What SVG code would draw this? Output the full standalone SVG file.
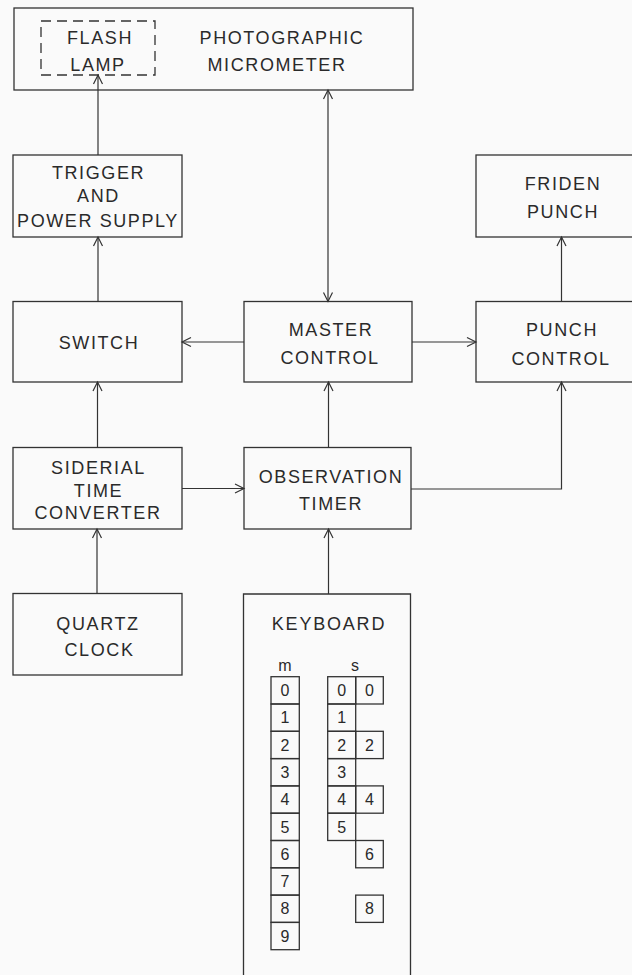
<svg xmlns="http://www.w3.org/2000/svg" width="632" height="975" viewBox="0 0 632 975">
<style>
.bg{fill:#fafafa}
.box{fill:none;stroke:#333;stroke-width:1.3}
.dash{fill:none;stroke:#333;stroke-width:1.3;stroke-dasharray:10 6}
.ln{fill:none;stroke:#333;stroke-width:1.2}
.t{font-family:"Liberation Sans",Arial,sans-serif;font-size:18px;fill:#2a2a2a;text-anchor:middle;letter-spacing:1.6px}
.k{font-family:"Liberation Sans",Arial,sans-serif;font-size:16px;fill:#2a2a2a;text-anchor:middle}
.d{font-family:"Liberation Sans",Arial,sans-serif;font-size:16px;fill:#2a2a2a;text-anchor:middle}
</style>
<defs>
<marker id="ah" markerWidth="12" markerHeight="12" viewBox="-10 -6 12 12" refX="0" refY="0" orient="auto-start-reverse" markerUnits="userSpaceOnUse">
<path d="M-9,-4.5 L0,0 L-9,4.5" fill="none" stroke="#333" stroke-width="1.2"/>
</marker>
</defs>
<rect class="bg" x="0" y="0" width="632" height="975"/>

<g id="micrometer">
<rect class="box" x="14" y="8" width="399" height="82"/>
<text class="t" x="282" y="43.5">PHOTOGRAPHIC</text>
<text class="t" x="277" y="71">MICROMETER</text>
</g>
<g id="flash-lamp">
<rect class="dash" x="41" y="21" width="114" height="54"/>
<text class="t" x="100" y="43.5">FLASH</text>
<text class="t" x="98" y="71">LAMP</text>
</g>
<g id="trigger">
<rect class="box" x="13" y="155" width="169" height="82"/>
<text class="t" x="98.5" y="179">TRIGGER</text>
<text class="t" x="98.5" y="201.5">AND</text>
<text class="t" x="98" y="226.5">POWER SUPPLY</text>
</g>
<g id="friden-punch">
<rect class="box" x="476" y="155" width="170" height="82"/>
<text class="t" x="563" y="190">FRIDEN</text>
<text class="t" x="563" y="217.5">PUNCH</text>
</g>
<g id="switch">
<rect class="box" x="13" y="301.5" width="169" height="80.5"/>
<text class="t" x="99" y="348.5">SWITCH</text>
</g>
<g id="master-control">
<rect class="box" x="244" y="301.5" width="168" height="80.5"/>
<text class="t" x="331" y="335.5">MASTER</text>
<text class="t" x="330" y="364">CONTROL</text>
</g>
<g id="punch-control">
<rect class="box" x="476" y="301.5" width="170" height="80.5"/>
<text class="t" x="562" y="336">PUNCH</text>
<text class="t" x="561" y="365">CONTROL</text>
</g>
<g id="siderial">
<rect class="box" x="13" y="447.5" width="169" height="81.5"/>
<text class="t" x="98.5" y="474">SIDERIAL</text>
<text class="t" x="98.5" y="496.5">TIME</text>
<text class="t" x="98" y="518.5">CONVERTER</text>
</g>
<g id="observation-timer">
<rect class="box" x="244" y="447.5" width="167" height="81.5"/>
<text class="t" x="331" y="482.5">OBSERVATION</text>
<text class="t" x="331" y="510">TIMER</text>
</g>
<g id="quartz-clock">
<rect class="box" x="13" y="593.5" width="169" height="81.5"/>
<text class="t" x="98" y="629.5">QUARTZ</text>
<text class="t" x="99.5" y="656">CLOCK</text>
</g>
<g id="keyboard">
<path class="box" d="M243.5,985 V594 H410.5 V985"/>
<text class="t" x="329" y="630" style="letter-spacing:1.8px">KEYBOARD</text>
<text class="k" x="285" y="671">m</text>
<text class="k" x="355" y="671">s</text>
<g id="m-keys">
<rect class="box" x="271" y="676.7" width="28.3" height="27.3"/>
<rect class="box" x="271" y="704" width="28.3" height="27.3"/>
<rect class="box" x="271" y="731.3" width="28.3" height="27.3"/>
<rect class="box" x="271" y="758.6" width="28.3" height="27.3"/>
<rect class="box" x="271" y="785.9" width="28.3" height="27.3"/>
<rect class="box" x="271" y="813.2" width="28.3" height="27.3"/>
<rect class="box" x="271" y="840.5" width="28.3" height="27.3"/>
<rect class="box" x="271" y="867.8" width="28.3" height="27.3"/>
<rect class="box" x="271" y="895.1" width="28.3" height="27.3"/>
<rect class="box" x="271" y="922.4" width="28.3" height="27.3"/>
<text class="d" x="285" y="696">0</text>
<text class="d" x="285" y="723.3">1</text>
<text class="d" x="285" y="750.6">2</text>
<text class="d" x="285" y="777.9">3</text>
<text class="d" x="285" y="805.2">4</text>
<text class="d" x="285" y="832.5">5</text>
<text class="d" x="285" y="859.8">6</text>
<text class="d" x="285" y="887.1">7</text>
<text class="d" x="285" y="914.4">8</text>
<text class="d" x="285" y="941.7">9</text>
</g>
<g id="s-tens">
<rect class="box" x="327.7" y="676.7" width="28" height="27.3"/>
<rect class="box" x="327.7" y="704" width="28" height="27.3"/>
<rect class="box" x="327.7" y="731.3" width="28" height="27.3"/>
<rect class="box" x="327.7" y="758.6" width="28" height="27.3"/>
<rect class="box" x="327.7" y="785.9" width="28" height="27.3"/>
<rect class="box" x="327.7" y="813.2" width="28" height="27.3"/>
<text class="d" x="341.7" y="696">0</text>
<text class="d" x="341.7" y="723.3">1</text>
<text class="d" x="341.7" y="750.6">2</text>
<text class="d" x="341.7" y="777.9">3</text>
<text class="d" x="341.7" y="805.2">4</text>
<text class="d" x="341.7" y="832.5">5</text>
</g>
<g id="s-units">
<rect class="box" x="355.7" y="676.7" width="27.6" height="27.3"/>
<rect class="box" x="355.7" y="731.3" width="27.6" height="27.3"/>
<rect class="box" x="355.7" y="785.9" width="27.6" height="27.3"/>
<rect class="box" x="355.7" y="840.5" width="27.6" height="27.3"/>
<rect class="box" x="355.7" y="895.1" width="27.6" height="27.3"/>
<text class="d" x="369.5" y="696">0</text>
<text class="d" x="369.5" y="750.6">2</text>
<text class="d" x="369.5" y="805.2">4</text>
<text class="d" x="369.5" y="859.8">6</text>
<text class="d" x="369.5" y="914.4">8</text>
</g>
</g>

<g id="connectors">
<line class="ln" x1="98" y1="155" x2="98" y2="75" marker-end="url(#ah)"/>
<line class="ln" x1="328" y1="90" x2="328" y2="301.5" marker-start="url(#ah)" marker-end="url(#ah)"/>
<line class="ln" x1="98" y1="301.5" x2="98" y2="237" marker-end="url(#ah)"/>
<line class="ln" x1="244" y1="342" x2="182" y2="342" marker-end="url(#ah)"/>
<line class="ln" x1="412" y1="342" x2="476" y2="342" marker-end="url(#ah)"/>
<line class="ln" x1="561.5" y1="301.5" x2="561.5" y2="237" marker-end="url(#ah)"/>
<line class="ln" x1="97.5" y1="447.5" x2="97.5" y2="382" marker-end="url(#ah)"/>
<line class="ln" x1="328.5" y1="447.5" x2="328.5" y2="382" marker-end="url(#ah)"/>
<line class="ln" x1="182" y1="488.5" x2="244" y2="488.5" marker-end="url(#ah)"/>
<polyline class="ln" points="411,489 561.5,489 561.5,382" marker-end="url(#ah)"/>
<line class="ln" x1="97" y1="593.5" x2="97" y2="529" marker-end="url(#ah)"/>
<line class="ln" x1="328.5" y1="594" x2="328.5" y2="529" marker-end="url(#ah)"/>
</g>
</svg>
